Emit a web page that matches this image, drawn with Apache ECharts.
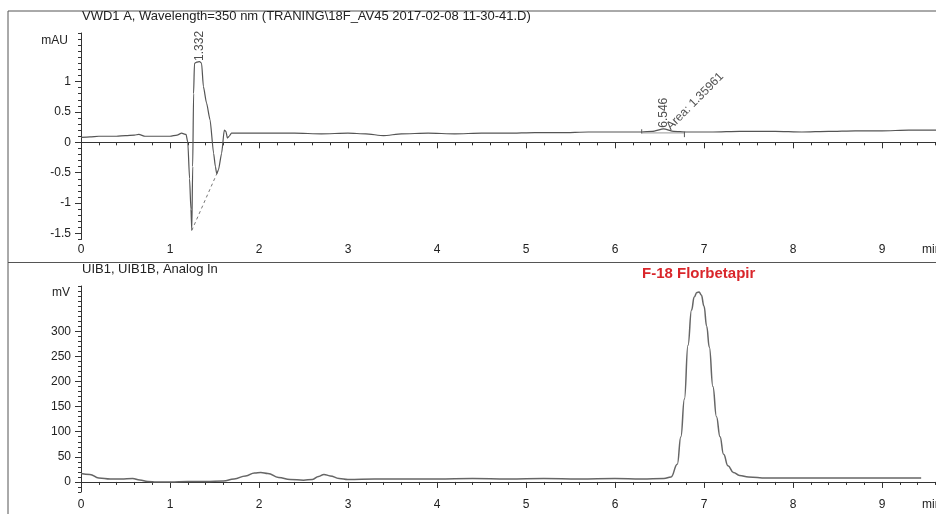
<!DOCTYPE html>
<html>
<head>
<meta charset="utf-8">
<script src="https://cdn.jsdelivr.net/npm/echarts@6/dist/echarts.min.js"></script>
<style>
  html, body { margin: 0; padding: 0; background: #fff; }
  #chart { width: 936px; height: 514px; }
</style>
</head>
<body>
<div id="chart"></div>
<script>
// VWD1 A trace (mAU)
const vwdTime = [0, 0.1, 0.2, 0.3, 0.4, 0.5, 0.6, 0.65, 0.72, 0.8, 0.9, 1.0, 1.08, 1.13, 1.18, 1.2, 1.22, 1.235, 1.245, 1.255, 1.265, 1.275, 1.3, 1.332, 1.355, 1.375, 1.41, 1.45, 1.49, 1.51, 1.525, 1.545, 1.58, 1.61, 1.628, 1.645, 1.665, 1.69, 1.75, 1.9, 2.1, 2.4, 2.7, 3.0, 3.2, 3.4, 3.6, 3.9, 4.2, 4.5, 4.8, 5.1, 5.4, 5.7, 6.0, 6.3, 6.42, 6.546, 6.66, 6.8, 7.1, 7.4, 7.8, 8.1, 8.4, 8.7, 9.0, 9.3, 9.6, 9.8]
const vwdSignal = [0.08, 0.09, 0.1, 0.1, 0.1, 0.11, 0.12, 0.13, 0.1, 0.1, 0.1, 0.1, 0.12, 0.15, 0.13, 0.0, -0.6, -1.1, -1.45, -0.4, 0.8, 1.3, 1.32, 1.33, 1.3, 0.92, 0.65, 0.37, -0.18, -0.4, -0.52, -0.45, -0.18, 0.2, 0.18, 0.07, 0.1, 0.15, 0.15, 0.15, 0.15, 0.15, 0.14, 0.15, 0.14, 0.11, 0.14, 0.15, 0.14, 0.15, 0.15, 0.16, 0.16, 0.17, 0.17, 0.17, 0.18, 0.22, 0.18, 0.17, 0.17, 0.18, 0.18, 0.17, 0.18, 0.19, 0.19, 0.2, 0.2, 0.2]

// UIB1 trace (mV)
const uibTime = [0, 0.1, 0.2, 0.33, 0.45, 0.58, 0.66, 0.75, 0.85, 1.0, 1.2, 1.4, 1.6, 1.72, 1.85, 1.95, 2.02, 2.1, 2.22, 2.35, 2.5, 2.6, 2.67, 2.73, 2.8, 2.9, 3.0, 3.3, 3.6, 4.0, 4.4, 4.8, 5.2, 5.6, 6.0, 6.3, 6.55, 6.63, 6.7, 6.74, 6.78, 6.82, 6.86, 6.89, 6.92, 6.945, 6.97, 7.0, 7.03, 7.06, 7.1, 7.14, 7.18, 7.22, 7.27, 7.33, 7.4, 7.5, 7.7, 8.0, 8.5, 9.0, 9.44]
const uibSignal = [17, 15, 8, 6, 6, 7, 4, 1, 0, 0, 1, 1, 2, 6, 12, 18, 19, 17, 9, 5, 3.5, 5, 11, 15, 12, 7, 5, 6, 6, 6, 7, 6, 7, 6, 7, 6, 7, 10, 35, 90, 165, 272, 342, 368, 377, 378, 372, 350, 310, 268, 190, 130, 90, 55, 32, 19, 13, 10, 8, 8, 8, 8, 8]

// integration marks on the VWD trace
const dropBaseline = [[1.245, -1.45], [1.525, -0.52]]
const areaStart = 6.30
const areaEnd = 6.78
const areaBase = 0.155

// annotations: [time, value, text, rotation]
const vwdLabels = [
  [1.332, 1.34, '1.332', 90],
  [6.546, 0.24, '6.546', 90],
  [6.6, 0.235, 'Area: 1.35961', 45]
]

// axis ticks
const mauTicks = [-1.5, -1, -0.5, 0, 0.5, 1]
const mvTicks = [0, 50, 100, 150, 200, 250, 300]

const FONT = '"Liberation Sans", Arial, sans-serif'
const INK = '#222'
const AXIS = '#333'

const chart = echarts.init(document.getElementById('chart'))

const xAxisBase = (gridIndex, margin) => ({
  type: 'value',
  gridIndex,
  min: 0,
  max: 10,
  interval: 1,
  axisLine: { lineStyle: { color: AXIS, width: 1 } },
  axisTick: { length: 6, lineStyle: { color: AXIS } },
  minorTick: { show: true, splitNumber: 5, length: 3, lineStyle: { color: AXIS } },
  axisLabel: { color: INK, fontSize: 12, fontFamily: FONT, margin },
  splitLine: { show: false },
  minorSplitLine: { show: false }
})

// dense short ticks + axis line
const yMinorAxis = (gridIndex, min, max, interval) => ({
  type: 'value',
  gridIndex,
  position: 'left',
  offset: 0,
  min,
  max,
  interval,
  axisLine: { show: true, lineStyle: { color: AXIS, width: 1 } },
  axisTick: { show: true, length: 3, lineStyle: { color: AXIS } },
  axisLabel: { show: false },
  splitLine: { show: false }
})

// labelled long ticks
const yMajorAxis = (gridIndex, min, max, ticks) => ({
  type: 'value',
  gridIndex,
  position: 'left',
  offset: 0,
  min,
  max,
  axisLine: { show: false },
  axisTick: { show: true, length: 6, customValues: ticks, lineStyle: { color: AXIS } },
  axisLabel: { color: INK, fontSize: 12, fontFamily: FONT, margin: 10, customValues: ticks },
  splitLine: { show: false }
})

const option = {
  animation: false,
  backgroundColor: '#fff',
  grid: [
    { left: 81, top: 33, width: 890, height: 206.5, outerBoundsMode: 'none', containLabel: false },
    { left: 81, top: 286, width: 890, height: 206, outerBoundsMode: 'none', containLabel: false }
  ],
  xAxis: [xAxisBase(0, 4), xAxisBase(1, 7)],
  yAxis: [
    yMinorAxis(0, -1.6, 1.8, 0.1),
    yMajorAxis(0, -1.6, 1.8, mauTicks),
    yMinorAxis(1, -20, 390, 10),
    yMajorAxis(1, -20, 390, mvTicks)
  ],
  graphic: [
    { type: 'line', shape: { x1: 8, y1: 11, x2: 936, y2: 11 }, style: { stroke: '#555', lineWidth: 1 } },
    { type: 'line', shape: { x1: 8, y1: 11, x2: 8, y2: 514 }, style: { stroke: '#555', lineWidth: 1 } },
    { type: 'line', shape: { x1: 8, y1: 262.5, x2: 936, y2: 262.5 }, style: { stroke: '#555', lineWidth: 1.2 } },
    { type: 'text', left: 82, top: 10, style: { text: 'VWD1 A, Wavelength=350 nm (TRANING\\18F_AV45 2017-02-08 11-30-41.D)', fill: INK, font: '13px ' + FONT } },
    { type: 'text', left: 82, top: 263, style: { text: 'UIB1, UIB1B, Analog In', fill: INK, font: '13px ' + FONT } },
    { type: 'text', left: 642, top: 266, style: { text: 'F-18 Florbetapir', fill: '#d9262b', font: 'bold 15px ' + FONT } },
    { type: 'text', x: 68, y: 41, style: { text: 'mAU', fill: INK, font: '12px ' + FONT, align: 'right', verticalAlign: 'middle' } },
    { type: 'text', x: 70, y: 293, style: { text: 'mV', fill: INK, font: '12px ' + FONT, align: 'right', verticalAlign: 'middle' } },
    { type: 'text', x: 922, y: 250, style: { text: 'min', fill: INK, font: '12px ' + FONT, verticalAlign: 'middle' } },
    { type: 'text', x: 922, y: 505, style: { text: 'min', fill: INK, font: '12px ' + FONT, verticalAlign: 'middle' } }
  ],
  series: [
    {
      name: 'VWD1 A',
      type: 'line',
      xAxisIndex: 0,
      yAxisIndex: 0,
      showSymbol: false,
      smooth: 0.2,
      smoothMonotone: 'x',
      lineStyle: { color: '#555', width: 1.2 },
      data: vwdTime.map((t, i) => [t, vwdSignal[i]]),
      z: 3
    },
    {
      name: 'drop baseline',
      type: 'line',
      xAxisIndex: 0,
      yAxisIndex: 0,
      showSymbol: false,
      lineStyle: { color: '#777', width: 1, type: [3, 3] },
      data: dropBaseline
    },
    {
      name: 'area baseline',
      type: 'line',
      xAxisIndex: 0,
      yAxisIndex: 0,
      showSymbol: false,
      lineStyle: { color: '#999', width: 1 },
      data: [[areaStart, areaBase], [areaEnd, areaBase]]
    },
    {
      name: 'area start',
      type: 'line',
      xAxisIndex: 0,
      yAxisIndex: 0,
      showSymbol: false,
      lineStyle: { color: '#555', width: 1 },
      data: [[areaStart, areaBase + 0.06], [areaStart, areaBase - 0.01]]
    },
    {
      name: 'area end',
      type: 'line',
      xAxisIndex: 0,
      yAxisIndex: 0,
      showSymbol: false,
      lineStyle: { color: '#555', width: 1 },
      data: [[areaEnd, areaBase + 0.02], [areaEnd, areaBase - 0.07]]
    },
    {
      name: 'labels',
      type: 'scatter',
      xAxisIndex: 0,
      yAxisIndex: 0,
      symbolSize: 1,
      itemStyle: { color: 'rgba(0,0,0,0)' },
      data: vwdLabels.map(d => ({
        value: [d[0], d[1]],
        label: {
          show: true,
          position: 'inside',
          formatter: d[2],
          rotate: d[3],
          align: 'left',
          verticalAlign: 'middle',
          color: INK,
          fontSize: 12,
          fontFamily: FONT
        }
      })),
      z: 5
    },
    {
      name: 'UIB1',
      type: 'line',
      xAxisIndex: 1,
      yAxisIndex: 2,
      showSymbol: false,
      smooth: 0.45,
      smoothMonotone: 'x',
      lineStyle: { color: '#666', width: 1.5 },
      data: uibTime.map((t, i) => [t, uibSignal[i]])
    }
  ]
}

chart.setOption(option)
</script>
</body>
</html>
